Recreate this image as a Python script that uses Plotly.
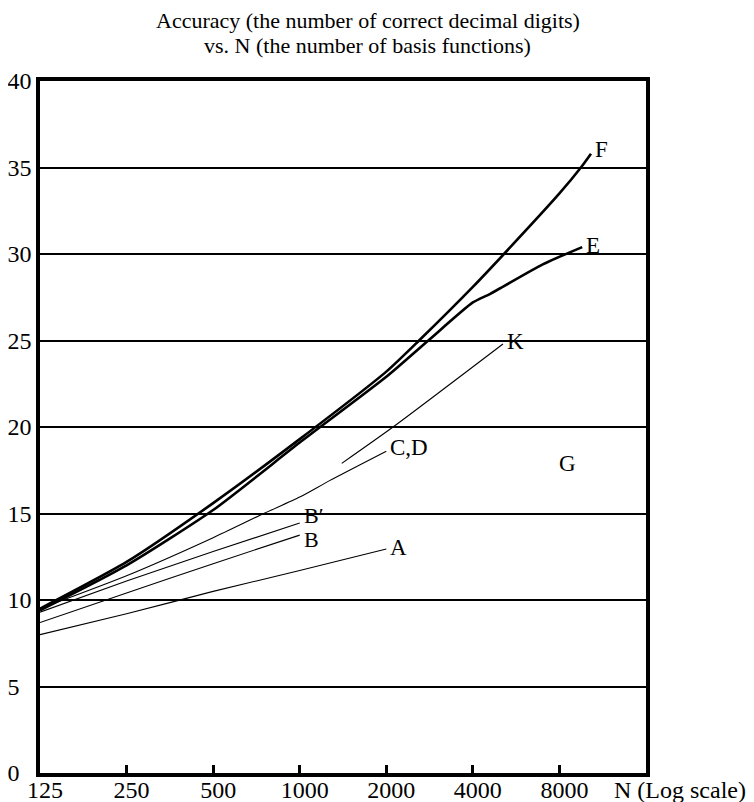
import math
import plotly.graph_objects as go

# ---- data ----
F_n = [125, 250, 500, 1000, 2000, 2600, 4000, 5130, 8000, 9500, 10300]
F_y = [9.5, 12.2, 15.6, 19.3, 23.2, 25.0, 28.1, 30.0, 33.5, 35.0, 35.8]

E_n = [125, 250, 500, 1000, 2000, 2800, 4000, 4600, 7000, 9600]
E_y = [9.4, 12.0, 15.2, 19.1, 22.9, 25.0, 27.2, 27.7, 29.4, 30.4]

K_n = [1400, 2111, 5090]
K_y = [17.9, 20.0, 24.8]

CD_n = [125, 250, 500, 750, 1000, 1270, 2000]
CD_y = [9.5, 11.4, 13.6, 15.0, 15.95, 16.9, 18.6]

Bp_n = [125, 250, 500, 1000]
Bp_y = [9.3, 11.1, 12.8, 14.45]

B_n = [125, 250, 500, 1000]
B_y = [8.7, 10.4, 12.1, 13.75]

A_n = [125, 250, 500, 1000, 2000]
A_y = [8.0, 9.2, 10.5, 11.7, 12.95]

G_pos = (8560, 17.9)

x_ticks = [125, 250, 500, 1000, 2000, 4000, 8000]
y_ticks = [0, 5, 10, 15, 20, 25, 30, 35, 40]
# single-digit labels sit left-aligned in the reference
y_ticktext = [str(v) if v >= 10 else str(v) + "\u2007" for v in y_ticks]

FONT = "Liberation Serif"
FS = 23

# (name, x, y, line width, label yshift)
series = [
    ("F", F_n, F_y, 2.6, 4),
    ("E", E_n, E_y, 2.6, 2),
    ("K", K_n, K_y, 1.1, 2),
    ("C,D", CD_n, CD_y, 1.1, 4),
    ("B′", Bp_n, Bp_y, 1.1, 8),
    ("B", B_n, B_y, 1.1, -4),
    ("A", A_n, A_y, 1.1, 1),
]

fig = go.Figure()
for name, xs, ys, w, ysh in series:
    fig.add_trace(go.Scatter(
        x=xs, y=ys, mode="lines", name=name,
        line=dict(color="black", width=w, shape="spline", smoothing=0.6),
        showlegend=False, hoverinfo="skip",
    ))
    fig.add_annotation(
        x=math.log10(xs[-1]), y=ys[-1], text=name, showarrow=False,
        xanchor="left", yanchor="middle", xshift=2, yshift=ysh,
        font=dict(family=FONT, size=22 if name in ("B′", "B") else FS, color="black"),
    )

fig.add_annotation(
    x=math.log10(G_pos[0]), y=G_pos[1], text="G", showarrow=False,
    xanchor="center", yanchor="middle",
    font=dict(family=FONT, size=FS, color="black"),
)

# title (two lines)
fig.add_annotation(
    xref="paper", yref="paper", x=0.541, y=1.088,
    text="Accuracy (the number of correct decimal digits)",
    showarrow=False, xanchor="center", yanchor="middle",
    font=dict(family=FONT, size=22, color="black"),
)
fig.add_annotation(
    xref="paper", yref="paper", x=0.541, y=1.052,
    text="vs. N (the number of basis functions)",
    showarrow=False, xanchor="center", yanchor="middle",
    font=dict(family=FONT, size=22, color="black"),
)
fig.add_annotation(
    xref="paper", yref="paper", x=0.944, y=-0.0246,
    text="N (Log scale)", showarrow=False, xanchor="left", yanchor="middle",
    font=dict(family=FONT, size=24, color="black"),
)

fig.update_xaxes(
    type="log", range=[math.log10(125), math.log10(16000)],
    tickvals=x_ticks, ticktext=[str(v) for v in x_ticks],
    ticks="inside", ticklen=8, tickwidth=2.5, tickcolor="black",
    ticklabelstandoff=-8, ticklabelshift=5,
    showgrid=False, zeroline=False, automargin=False,
    showline=True, linewidth=3.5, linecolor="black", mirror=True,
    tickfont=dict(family=FONT, size=24, color="black"),
)
fig.update_yaxes(
    range=[0, 40], tickvals=y_ticks, ticktext=y_ticktext,
    ticks="", showgrid=True, gridcolor="black", gridwidth=2.2,
    zeroline=False, automargin=False,
    showline=True, linewidth=3.5, linecolor="black", mirror=True,
    tickfont=dict(family=FONT, size=24, color="black"),
)

# page body has an 8px margin: size and margins compensate for it
fig.update_layout(
    width=746, height=794,
    margin=dict(l=32, r=108, t=73, b=29),
    plot_bgcolor="white", paper_bgcolor="white",
    font=dict(family=FONT, size=FS, color="black"),
)

fig.write_html("out.html")
